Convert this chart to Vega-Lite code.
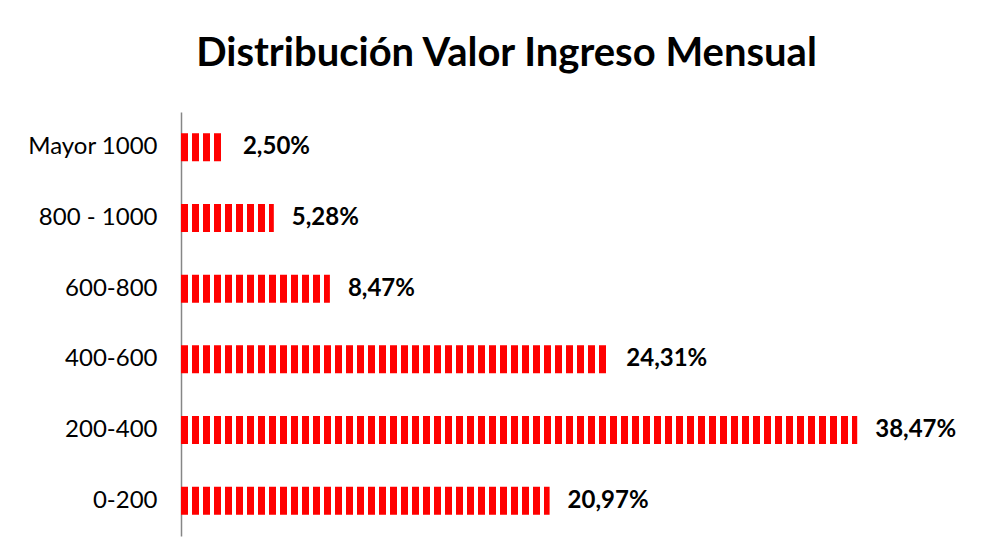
{
  "$schema": "https://vega.github.io/schema/vega-lite/v6.json",
  "width": 791,
  "height": 424,
  "padding": {"left": 181, "top": 112, "right": 22, "bottom": 24},
  "autosize": {"type": "none"},
  "background": "white",
  "config": {
    "view": {"stroke": null},
    "locale": {"number": {"decimal": ",", "thousands": ".", "grouping": [3], "currency": ["", " €"]}}
  },
  "title": {
    "text": "Distribución Valor Ingreso Mensual",
    "font": "Lato",
    "fontSize": 40,
    "fontWeight": "bold",
    "color": "#000000",
    "anchor": "middle",
    "dx": -70,
    "offset": 38
  },
  "data": {
    "values": [
      {"rango": "Mayor 1000", "pct": 0.025},
      {"rango": "800 - 1000", "pct": 0.0528},
      {"rango": "600-800", "pct": 0.0847},
      {"rango": "400-600", "pct": 0.2431},
      {"rango": "200-400", "pct": 0.3847},
      {"rango": "0-200", "pct": 0.2097}
    ]
  },
  "encoding": {
    "y": {
      "field": "rango",
      "type": "nominal",
      "sort": null,
      "title": null,
      "axis": {
        "domainColor": "#868686",
        "domainWidth": 1.5,
        "ticks": false,
        "labelPadding": 24,
        "labelFont": "Lato",
        "labelFontSize": 24,
        "labelColor": "#000000"
      }
    },
    "x": {
      "field": "pct",
      "type": "quantitative",
      "scale": {"domain": [0, 0.45], "nice": false},
      "axis": null
    }
  },
  "layer": [
    {
      "mark": {"type": "rule", "color": "#ff0000", "strokeWidth": 28, "strokeDash": [7, 4], "strokeCap": "butt"},
      "encoding": {
        "x": {"datum": 0},
        "x2": {"field": "pct"}
      }
    },
    {
      "mark": {"type": "text", "align": "left", "dx": 18, "font": "Lato", "fontSize": 24, "fontWeight": "bold", "color": "#000000"},
      "encoding": {
        "text": {"field": "pct", "type": "quantitative", "format": ".2%"}
      }
    }
  ]
}
